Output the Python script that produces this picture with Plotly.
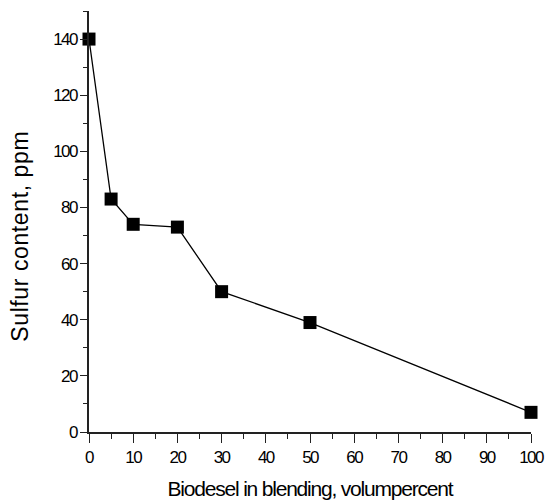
import plotly.graph_objects as go

# Biodiesel share in the blend (vol %) and measured sulfur content (ppm)
biodiesel_pct = [0, 5, 10, 20, 30, 50, 100]
sulfur_ppm = [140, 83, 74, 73, 50, 39, 7]

x_ticks = list(range(0, 101, 10))
y_ticks = list(range(0, 141, 20))

font_family = "Liberation Sans, Arial, sans-serif"

fig = go.Figure()
fig.add_trace(go.Scatter(
    x=biodiesel_pct,
    y=sulfur_ppm,
    mode="lines+markers",
    line=dict(color="black", width=1.3),
    marker=dict(symbol="square", size=13, color="black"),
    cliponaxis=False,
    showlegend=False,
))

axis_common = dict(
    showgrid=False,
    zeroline=False,
    showline=True,
    linecolor="#222",
    linewidth=1.6,
    ticks="outside",
    tickcolor="#222",
    tickwidth=1.4,
    automargin=False,
    ticklabeloverflow="allow",
    tickfont=dict(family=font_family, size=17, color="black"),
)

fig.update_xaxes(
    **axis_common,
    range=[0, 100],
    tickvals=x_ticks,
    ticklen=9,
    minor=dict(dtick=5, ticks="outside", ticklen=5, tickcolor="#222", tickwidth=1.4),
    title=dict(text="Biodesel in blending, volumpercent",
               font=dict(family=font_family, size=21, color="black"), standoff=15),
)
fig.update_yaxes(
    **axis_common,
    range=[0, 150],
    tickvals=y_ticks,
    ticklen=7,
    minor=dict(dtick=10, ticks="outside", ticklen=4, tickcolor="#222", tickwidth=1.4),
)

# Vertical axis caption placed as a rotated annotation
fig.add_annotation(
    text="Sulfur content, ppm",
    xref="paper", yref="paper",
    x=(19.5 - 89) / 442, y=(432 - 236.5) / 421,
    xanchor="center", yanchor="middle",
    textangle=-90,
    showarrow=False,
    font=dict(family=font_family, size=23, color="black"),
)

fig.update_layout(
    width=545,
    height=502,
    margin=dict(l=89, r=14, t=11, b=70),
    plot_bgcolor="white",
    paper_bgcolor="white",
)

# Tight letter spacing for the tick labels and the horizontal caption
post_js = """
document.querySelectorAll('g.xtick text, g.ytick text').forEach(function(t){t.style.letterSpacing='-1.6px';});
document.querySelectorAll('.g-xtitle text').forEach(function(t){t.style.letterSpacing='-1.2px';});
document.querySelectorAll('.annotation-text').forEach(function(t){t.style.letterSpacing='0.6px';});
"""

fig.write_html("out.html", post_script=post_js)
